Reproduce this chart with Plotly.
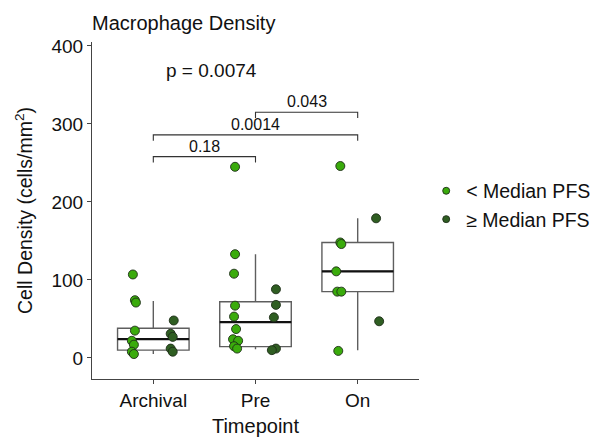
import plotly.graph_objects as go

# ---------------- data ----------------
categories = ["Archival", "Pre", "On"]

# jittered points: values (cells/mm^2)
below_vals = [
    [107, 74, 71, 35, 22, 17, 8, 5],
    [245, 133, 108, 67, 53, 37, 24, 22, 15, 12],
    [246, 148, 146, 111, 85, 85, 9],
]
above_vals = [
    [48, 31, 27, 12, 8],
    [88, 68, 52, 12, 10],
    [179, 47],
]
# horizontal jitter offsets (category units)
below_jit = [
    [-0.20, -0.18, -0.17, -0.18, -0.21, -0.19, -0.21, -0.19],
    [-0.20, -0.20, -0.21, -0.20, -0.21, -0.19, -0.22, -0.17, -0.21, -0.18],
    [-0.17, -0.17, -0.16, -0.21, -0.20, -0.16, -0.19],
]
above_jit = [
    [0.20, 0.17, 0.19, 0.17, 0.19],
    [0.20, 0.20, 0.18, 0.20, 0.16],
    [0.18, 0.21],
]

# box statistics
box_lower = [5, 11, 10]
box_q1 = [10, 14.5, 85]
box_median = [24, 46, 111]
box_q3 = [38, 72, 148]
box_upper = [73, 133, 179]

# pairwise comparisons: (group a, group b, bracket height, label)
comp_a = [0, 0, 1]
comp_b = [1, 2, 2]
comp_y = [258, 286, 315]
comp_label = ["0.18", "0.0014", "0.043"]

global_p = "p = 0.0074"
series_names = ["< Median PFS", "\u2265 Median PFS"]
y_ticks = [0, 100, 200, 300, 400]

# ---------------- style ----------------
FONT = "Liberation Sans, Arial, sans-serif"
LIGHT = "#3aab0c"
DARK = "#2f5e22"
TXT = "#111111"
EDGE = "#1e2e18"

fig = go.Figure()

idx = list(range(len(categories)))

fig.add_trace(go.Box(
    x=idx, q1=box_q1, median=box_median, q3=box_q3,
    lowerfence=box_lower, upperfence=box_upper,
    width=0.7, whiskerwidth=0, boxpoints=False,
    fillcolor="white", line=dict(color="#5e5e5e", width=1.4),
    showlegend=False, hoverinfo="skip",
))

# darker median lines
for i, m in enumerate(box_median):
    fig.add_trace(go.Scatter(
        x=[i - 0.35, i + 0.35], y=[m, m], mode="lines",
        line=dict(color="#111111", width=2.2),
        showlegend=False, hoverinfo="skip",
    ))

for name, vals, jits, col in [
    (series_names[0], below_vals, below_jit, LIGHT),
    (series_names[1], above_vals, above_jit, DARK),
]:
    xs, ys = [], []
    for i, (vv, jj) in enumerate(zip(vals, jits)):
        for v, j in zip(vv, jj):
            xs.append(i + j)
            ys.append(v)
    fig.add_trace(go.Scatter(
        x=xs, y=ys, mode="markers", name=name, showlegend=False,
        marker=dict(size=9, color=col, line=dict(color=EDGE, width=0.9)),
    ))
    # legend entry with smaller key symbol
    fig.add_trace(go.Scatter(
        x=[None], y=[None], mode="markers", name=name,
        marker=dict(size=7, color=col, line=dict(color=EDGE, width=0.9)),
    ))

# brackets
drop = 7.5
for a, b, yv, lab in zip(comp_a, comp_b, comp_y, comp_label):
    fig.add_trace(go.Scatter(
        x=[a, a, b, b], y=[yv - drop, yv, yv, yv - drop], mode="lines",
        line=dict(color="#333333", width=1.1),
        showlegend=False, hoverinfo="skip",
    ))
    fig.add_annotation(
        x=(a + b) / 2, y=yv, text=lab, showarrow=False,
        yanchor="bottom", yshift=0,
        font=dict(family=FONT, size=16, color=TXT),
    )

fig.add_annotation(
    x=0.57, y=369, text=global_p, showarrow=False,
    font=dict(family=FONT, size=19, color=TXT),
)

fig.update_layout(
    width=598, height=440,
    margin=dict(l=92, r=179, t=42, b=61, autoexpand=False),
    paper_bgcolor="white", plot_bgcolor="white",
    font=dict(family=FONT, color=TXT),
    title=dict(text="Macrophage Density", x=92 / 598, xanchor="left",
               y=1 - 23 / 440, yanchor="middle",
               font=dict(family=FONT, size=20, color=TXT)),
    legend=dict(x=1.022, y=0.516, xanchor="left", yanchor="middle",
                font=dict(family=FONT, size=19.5, color=TXT),
                bgcolor="rgba(0,0,0,0)", itemsizing="trace",
                tracegroupgap=0),
)

fig.update_xaxes(
    range=[-0.6, 2.6], tickmode="array", tickvals=idx, ticktext=categories,
    showgrid=False, zeroline=False, showline=True, linecolor="#444444",
    linewidth=1.2, ticks="outside", ticklen=4, tickcolor="#444444",
    tickfont=dict(family=FONT, size=19, color=TXT),
    title=dict(text="Timepoint", font=dict(family=FONT, size=20, color=TXT),
               standoff=9),
    automargin=False,
)
fig.update_yaxes(
    range=[-27, 405], tickmode="array", tickvals=y_ticks,
    showgrid=False, zeroline=False, showline=True, linecolor="#444444",
    linewidth=1.2, ticks="outside", ticklen=4, tickcolor="#444444",
    tickfont=dict(family=FONT, size=19, color=TXT),
    title=dict(text="Cell Density (cells/mm<sup>2</sup>)",
               font=dict(family=FONT, size=19.5, color=TXT), standoff=13),
    automargin=False,
)

fig.write_html(
    "out.html",
    config={"displayModeBar": False},
    post_script="document.body.style.margin='0';document.body.style.overflow='hidden';",
)
